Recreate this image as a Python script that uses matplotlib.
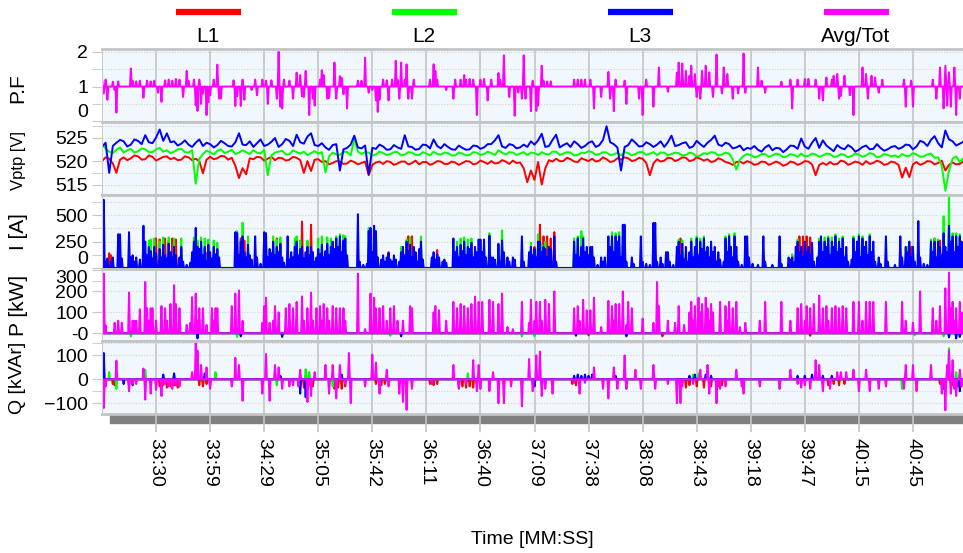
import numpy as np
import matplotlib.pyplot as plt
from matplotlib.lines import Line2D
from matplotlib.patches import Rectangle

plt.rcParams['font.family'] = ['Liberation Sans', 'DejaVu Sans']

# samples on the time axis (ticks every 30 samples)
N = 480
tick_pos = [30, 60, 90, 120, 150, 180, 210, 240, 270, 300, 330, 360, 390, 420, 450]
tick_labels = ['33:30', '33:59', '34:29', '35:05', '35:42', '36:11', '36:40', '37:09',
               '37:38', '38:08', '38:43', '39:18', '39:47', '40:15', '40:45']

phases = ['L1', 'L2', 'L3', 'Avg/Tot']
colors = ['#ff0000', '#00ff00', '#0000ff', '#ff00ff']

# power factor: sits at 1, (sample, value) where it leaves 1
pf_base = 1.0
pf_pts = [(0, 1.22), (1, 0.8), (2, 1.2), (3, 0.62), (6, 1.14), (7, 0.9), (8, 0.25), (9, 1.15),
          (16, 1.52), (17, 1.17), (19, 1.15), (21, 1.17), (23, 0.68), (25, 1.17), (27, 1.15),
          (29, 1.17), (31, 0.82), (33, 0.56), (35, 1.18), (37, 1.2), (39, 1.17), (41, 1.22),
          (43, 1.2), (45, 0.7), (47, 1.45), (48, 1.17), (51, 1.2), (52, 0.46), (53, 0.3),
          (54, 1.2), (55, 0.5), (56, 0.8), (58, 0.18), (59, 0.55), (60, 0.75), (62, 1.2),
          (64, 1.63), (65, 0.65), (66, 0.65), (73, 1.18), (74, 0.44), (75, 0.72), (77, 0.44),
          (78, 1.2), (79, 0.62), (83, 0.9), (85, 1.2), (86, 0.75), (89, 1.2), (91, 1.17),
          (92, 0.5), (94, 1.18), (97, 0.65), (98, 2.0), (99, 0.42), (100, 0.37), (101, 1.2),
          (104, 1.17), (106, 0.65), (108, 1.4), (110, 1.33), (111, 0.72), (112, 0.7),
          (113, 1.45), (115, 0.18), (117, 0.65), (118, 0.45), (121, 1.2), (122, 1.47),
          (123, 1.33), (125, 0.65), (126, 0.67), (129, 1.69), (130, 0.65), (132, 1.3),
          (133, 1.25), (134, 0.78), (136, 0.37), (142, 1.17), (144, 1.17), (146, 1.83),
          (148, 0.82), (150, 0.9), (152, 0.6), (153, 0.27), (154, 0.62), (156, 1.2),
          (158, 1.18), (159, 0.6), (161, 1.2), (163, 1.74), (164, 1.2), (165, 0.65),
          (166, 1.69), (168, 1.2), (169, 1.64), (170, 0.65), (172, 0.65), (173, 1.2),
          (182, 1.2), (184, 1.64), (185, 1.45), (186, 1.2), (191, 0.9), (195, 0.65),
          (196, 1.2), (199, 1.2), (201, 1.33), (202, 1.2), (204, 1.22), (206, 1.2), (208, 0.18),
          (210, 1.2), (212, 1.22), (214, 0.6), (216, 1.2), (220, 1.39), (221, 1.2), (223, 1.9),
          (226, 0.7), (229, 0.16), (231, 0.83), (233, 0.65), (234, 1.9), (235, 0.65),
          (238, 0.29), (239, 1.17), (241, 0.3), (242, 0.45), (244, 1.6), (245, 1.17),
          (247, 1.15), (249, 1.15), (262, 1.2), (264, 1.2), (266, 1.2), (268, 1.2), (271, 1.2),
          (273, 0.37), (277, 0.7), (281, 1.42), (282, 0.65), (284, 0.29), (285, 1.2),
          (290, 1.17), (291, 0.5), (298, 0.65), (300, 0.18), (302, 1.2), (306, 0.42),
          (309, 1.55), (314, 0.85), (319, 1.4), (320, 1.69), (322, 1.66), (324, 1.45),
          (326, 1.31), (327, 1.6), (329, 1.36), (330, 0.7), (332, 0.65), (333, 1.45),
          (335, 1.6), (337, 1.41), (339, 0.7), (341, 1.92), (344, 0.8), (345, 1.55),
          (347, 1.36), (350, 0.65), (353, 0.8), (356, 1.95), (357, 0.82), (364, 1.55),
          (366, 1.17), (368, 0.82), (377, 1.14), (382, 1.2), (383, 0.37), (386, 1.2),
          (390, 1.22), (392, 1.22), (396, 1.2), (398, 0.65), (400, 0.6), (402, 1.26),
          (405, 1.2), (406, 1.31), (408, 1.36), (409, 0.65), (410, 0.73), (412, 1.31),
          (415, 0.75), (417, 0.18), (422, 1.55), (424, 1.36), (425, 0.65), (427, 1.31),
          (429, 1.26), (431, 0.82), (433, 1.2), (445, 1.2), (446, 0.42), (449, 1.17),
          (450, 0.42), (461, 1.2), (463, 0.65), (465, 1.55), (467, 0.37), (468, 1.6),
          (469, 0.45), (470, 1.41), (471, 0.42), (473, 1.55), (474, 0.18), (476, 0.65)]

# phase-to-phase voltage: one reading every 2 samples, split in even/odd readings
v_step = 2
v_l1 = [520.0, 520.5, 517.5, 520.8, 520.6, 521.0, 520.4, 520.9, 520.5, 521.0,
        520.7, 520.3, 520.8, 520.5, 517.4, 520.9, 520.6, 521.0, 520.7, 516.4,
        517.2, 520.4, 520.8, 520.5, 520.2, 520.6, 520.3, 520.7, 517.5, 517.9,
        520.4, 520.0, 519.6, 519.9, 519.5, 519.8, 519.6, 517.0, 519.7, 519.4,
        519.8, 519.5, 519.9, 519.6, 519.3, 519.8, 519.5, 519.9, 519.4, 519.7,
        519.6, 519.9, 519.5, 519.8, 520.0, 519.6, 519.9, 520.1, 519.7, 515.5,
        516.0, 515.0, 520.2, 520.5, 520.0, 520.4, 519.8, 520.3, 520.5, 520.1,
        520.4, 520.0, 520.3, 520.6, 520.2, 520.5, 517.0, 520.4, 520.1, 520.6,
        520.3, 520.7, 520.2, 520.5, 520.4, 520.0, 520.3, 519.6, 519.8, 519.5,
        519.7, 519.4, 519.8, 519.5, 519.6, 519.3, 519.7, 519.5, 519.9, 517.0,
        519.6, 519.8, 519.4, 519.9, 519.5, 519.7, 520.0, 519.6, 519.8, 519.4,
        519.7, 516.5, 516.6, 519.8, 519.5, 519.9, 519.6, 518.0, 519.7, 519.4]
v_l1_odd = [520.8, 519.5, 520.3, 520.2, 521.2, 520.3, 521.2, 520.1, 520.9, 520.4,
            520.2, 521.0, 520.2, 520.0, 520.3, 520.4, 521.1, 520.3, 519.0, 518.5,
            520.6, 520.9, 520.1, 520.9, 520.7, 520.1, 520.9, 520.2, 520.0, 520.3,
            519.8, 519.3, 520.0, 519.4, 520.1, 519.3, 519.9, 519.2, 519.9, 520.0,
            519.2, 519.9, 519.3, 520.1, 519.8, 519.2, 520.0, 519.4, 519.9, 519.2,
            520.0, 519.3, 520.1, 519.4, 519.5, 520.2, 519.4, 519.6, 518.5, 518.0,
            519.8, 518.5, 519.9, 520.0, 520.7, 519.9, 520.6, 520.0, 519.9, 520.8,
            519.8, 520.6, 520.8, 520.0, 520.7, 519.6, 519.5, 519.9, 520.7, 520.0,
            520.8, 520.0, 520.8, 520.1, 519.8, 520.6, 519.8, 519.2, 519.9, 520.0,
            519.2, 519.9, 519.2, 519.9, 519.0, 519.9, 519.2, 520.0, 519.3, 519.2,
            519.2, 519.3, 520.1, 519.2, 519.9, 519.2, 519.4, 520.1, 519.2, 519.9,
            519.2, 518.6, 519.3, 519.2, 520.0, 519.3, 520.1, 519.2, 519.3, 519.9]
v_l2 = [523.8, 522.0, 522.4, 521.8, 522.6, 522.1, 522.5, 521.9, 522.8, 522.3,
        522.0, 522.6, 521.8, 515.2, 521.5, 521.9, 522.2, 521.7, 522.4, 521.8,
        521.9, 522.3, 521.6, 517.0, 521.8, 522.2, 521.5, 521.9, 522.0, 521.7,
        521.6, 517.6, 521.8, 521.3, 521.9, 524.8, 521.5, 521.8, 521.4, 521.7,
        521.5, 521.9, 521.4, 521.8, 521.3, 521.6, 522.0, 521.4, 521.7, 521.2,
        521.6, 521.3, 521.8, 521.5, 521.7, 522.3, 521.4, 521.8, 521.6, 521.3,
        521.7, 521.9, 521.4, 522.0, 521.6, 521.8, 521.3, 521.7, 521.9, 521.5,
        521.8, 521.4, 521.2, 521.7, 521.5, 521.9, 521.6, 521.3, 521.8, 521.5,
        521.7, 521.3, 521.6, 521.2, 521.5, 521.8, 521.4, 521.6, 518.2, 521.1,
        521.3, 521.0, 521.5, 521.2, 521.4, 521.0, 521.3, 521.6, 521.1, 521.4,
        521.2, 521.5, 521.0, 521.3, 521.1, 521.4, 521.2, 521.5, 521.0, 521.3,
        521.2, 521.5, 521.1, 521.4, 521.0, 521.6, 520.8, 513.7, 520.5, 519.8]
v_l2_odd = [522.6, 521.7, 522.9, 522.3, 521.8, 522.7, 521.9, 522.5, 522.0, 521.7,
            522.5, 521.9, 522.3, 520.5, 522.2, 521.4, 522.5, 522.0, 521.5, 522.3,
            521.5, 521.8, 522.4, 521.2, 522.0, 521.4, 522.3, 521.6, 521.3, 522.1,
            521.9, 521.0, 521.4, 522.0, 521.2, 522.0, 521.9, 521.2, 522.0, 521.3,
            521.9, 521.2, 521.9, 521.3, 521.9, 521.2, 521.5, 521.8, 521.2, 521.8,
            521.2, 521.9, 521.3, 522.0, 521.3, 521.8, 521.9, 521.3, 521.9, 521.8,
            521.3, 521.5, 522.0, 521.3, 521.9, 521.2, 521.8, 522.1, 521.3, 521.9,
            521.3, 521.8, 521.9, 521.2, 521.9, 521.3, 521.9, 521.8, 521.2, 521.8,
            521.2, 521.8, 521.0, 521.7, 521.9, 521.2, 521.8, 520.4, 520.3, 521.5,
            520.8, 521.5, 520.9, 521.6, 520.8, 521.5, 520.9, 521.0, 521.6, 520.9,
            521.6, 520.9, 521.5, 520.8, 521.6, 520.9, 521.7, 520.8, 521.5, 521.0,
            520.8, 521.1, 521.7, 520.9, 521.4, 520.7, 519.0, 518.0, 521.0, 520.6]
v_l3 = [523.0, 517.5, 523.9, 524.2, 523.5, 524.3, 525.5, 523.8, 526.7, 525.9,
        524.2, 523.7, 523.5, 523.9, 523.2, 523.6, 523.4, 523.8, 523.1, 525.9,
        523.4, 523.0, 524.6, 523.5, 524.9, 523.6, 524.3, 525.6, 523.7, 525.9,
        523.2, 522.9, 523.4, 518.0, 522.8, 525.4, 522.7, 517.2, 522.6, 523.1,
        522.5, 522.9, 525.5, 523.0, 522.6, 523.4, 524.6, 522.7, 523.0, 522.4,
        522.8, 522.5, 523.2, 522.9, 523.6, 525.5, 522.8, 523.4, 522.9, 523.0,
        523.5, 525.8, 523.2, 525.6, 523.4, 523.0, 523.6, 523.2, 524.2, 523.4,
        527.4, 523.6, 518.0, 523.4, 523.9, 523.2, 523.6, 523.5, 523.0, 525.4,
        523.4, 524.0, 523.1, 523.6, 523.9, 525.4, 523.2, 523.6, 522.9, 522.3,
        522.6, 522.4, 522.9, 522.3, 522.7, 522.5, 523.2, 524.8, 522.6, 524.9,
        524.4, 522.7, 523.4, 522.5, 522.9, 522.4, 523.3, 522.6, 522.8, 522.5,
        523.2, 522.9, 523.4, 523.1, 524.0, 524.5, 523.8, 526.5, 524.2, 523.7]
v_l3_odd = [523.9, 523.2, 524.5, 523.1, 524.6, 523.6, 524.0, 525.0, 524.3, 524.0,
            523.3, 524.4, 523.0, 524.6, 523.9, 522.9, 524.3, 523.2, 524.0, 523.5,
            524.2, 523.8, 523.2, 524.1, 523.0, 524.7, 523.2, 524.0, 525.2, 523.4,
            523.8, 522.4, 523.6, 522.5, 523.5, 522.9, 523.3, 522.8, 523.5, 522.4,
            523.4, 522.6, 523.1, 522.4, 523.5, 522.7, 523.2, 523.6, 522.5, 523.3,
            522.4, 523.3, 522.6, 523.6, 524.4, 523.1, 523.6, 522.7, 523.5, 524.2,
            524.4, 523.0, 524.5, 522.9, 523.8, 524.2, 522.8, 523.9, 523.0, 524.5,
            524.0, 522.9, 523.0, 524.6, 523.1, 524.0, 523.0, 524.2, 524.0, 523.2,
            523.8, 522.8, 524.3, 523.0, 524.5, 523.5, 523.9, 522.7, 523.3, 522.8,
            523.2, 522.0, 523.4, 522.8, 521.9, 523.3, 522.6, 523.1, 523.9, 522.8,
            523.3, 522.1, 522.8, 523.4, 522.0, 523.0, 522.5, 523.6, 522.2, 523.0,
            522.6, 523.5, 522.5, 524.3, 523.2, 525.3, 522.9, 524.6, 523.3, 524.1]

# current: sits at 0 A, (sample, value) where a phase draws current
i_l3_pts = [(0, 270), (1, 646), (2, 60), (3, 90), (5, 60), (6, 100), (9, 320), (10, 320), (11, 90),
            (15, 340), (16, 100), (17, 120), (18, 60), (19, 100), (21, 80), (23, 400), (24, 250),
            (25, 120), (26, 200), (27, 160), (28, 90), (29, 200), (30, 140), (32, 180), (33, 100),
            (34, 220), (35, 120), (36, 90), (37, 230), (38, 150), (39, 100), (40, 200), (41, 120),
            (43, 100), (44, 200), (45, 60), (47, 30), (49, 50), (50, 150), (51, 250), (52, 380),
            (53, 200), (54, 180), (55, 250), (56, 120), (57, 200), (58, 60), (59, 220), (60, 150),
            (61, 90), (62, 200), (63, 130), (64, 180), (65, 100), (74, 340), (75, 330), (76, 120),
            (77, 250), (78, 300), (79, 150), (80, 100), (81, 220), (82, 120), (83, 80), (85, 300),
            (86, 100), (88, 40), (90, 340), (91, 330), (92, 100), (93, 180), (94, 140), (95, 250),
            (96, 120), (97, 200), (98, 150), (99, 230), (100, 100), (101, 50), (103, 300), (104, 80),
            (105, 150), (106, 100), (107, 200), (108, 250), (109, 120), (110, 180), (111, 200),
            (112, 90), (113, 150), (114, 200), (115, 120), (116, 200), (117, 150), (118, 60),
            (119, 100), (120, 180), (121, 130), (122, 220), (123, 100), (124, 160), (125, 230),
            (126, 120), (127, 200), (128, 250), (129, 180), (130, 280), (131, 200), (132, 300),
            (133, 150), (134, 260), (135, 280), (136, 120), (142, 510), (143, 60), (145, 30),
            (147, 40), (148, 350), (149, 380), (150, 150), (151, 400), (152, 350), (153, 100),
            (155, 80), (156, 120), (157, 60), (158, 100), (159, 140), (160, 80), (161, 60),
            (162, 120), (163, 80), (165, 60), (166, 150), (167, 200), (168, 120), (169, 250),
            (170, 160), (171, 220), (172, 100), (173, 200), (174, 150), (175, 60), (176, 180),
            (177, 250), (178, 80), (183, 100), (184, 150), (185, 80), (186, 130), (187, 100),
            (189, 60), (190, 80), (191, 50), (195, 280), (196, 150), (197, 200), (198, 100),
            (199, 220), (200, 160), (201, 250), (202, 120), (203, 200), (204, 180), (205, 240),
            (206, 100), (207, 200), (208, 150), (209, 270), (210, 270), (211, 150), (212, 270),
            (213, 100), (215, 305), (216, 100), (217, 100), (218, 80), (220, 230), (221, 60),
            (222, 260), (223, 150), (225, 100), (226, 60), (228, 100), (229, 80), (233, 300),
            (234, 60), (237, 150), (238, 200), (239, 120), (240, 180), (241, 100), (242, 250),
            (243, 250), (244, 150), (245, 200), (246, 180), (247, 100), (248, 200), (249, 180),
            (251, 300), (252, 60), (262, 250), (263, 120), (264, 280), (265, 100), (266, 200),
            (267, 280), (268, 150), (269, 200), (270, 120), (271, 200), (272, 200), (273, 100),
            (275, 30), (277, 100), (278, 60), (279, 100), (281, 300), (282, 200), (283, 300),
            (284, 150), (285, 300), (286, 250), (287, 300), (288, 100), (289, 410), (290, 410),
            (291, 60), (294, 100), (295, 40), (299, 300), (300, 60), (302, 40), (304, 30),
            (306, 427), (307, 427), (308, 60), (310, 100), (311, 40), (313, 150), (314, 150),
            (315, 60), (317, 30), (319, 200), (320, 250), (321, 120), (322, 230), (323, 80),
            (324, 200), (325, 60), (326, 150), (327, 250), (328, 100), (329, 200), (330, 280),
            (331, 120), (332, 250), (333, 180), (334, 280), (335, 150), (336, 200), (337, 100),
            (338, 250), (339, 150), (340, 200), (341, 60), (342, 150), (343, 80), (345, 60),
            (346, 280), (347, 150), (348, 300), (349, 200), (350, 100), (351, 300), (352, 200),
            (353, 60), (355, 30), (357, 300), (358, 300), (359, 100), (361, 40), (364, 30),
            (367, 300), (368, 60), (372, 30), (376, 300), (377, 40), (381, 100), (382, 80),
            (383, 100), (384, 50), (385, 200), (386, 250), (387, 150), (388, 200), (389, 100),
            (390, 250), (391, 150), (392, 200), (393, 120), (394, 240), (395, 60), (397, 100),
            (398, 250), (399, 300), (400, 150), (401, 250), (402, 200), (403, 280), (404, 120),
            (405, 250), (406, 200), (407, 300), (408, 150), (409, 250), (410, 180), (411, 280),
            (412, 100), (413, 200), (414, 60), (416, 80), (417, 280), (418, 150), (419, 250),
            (420, 300), (421, 100), (422, 280), (423, 200), (424, 250), (425, 120), (426, 300),
            (427, 150), (428, 250), (429, 60), (431, 100), (432, 40), (435, 300), (436, 60),
            (440, 30), (443, 300), (444, 100), (446, 200), (447, 150), (448, 250), (449, 100),
            (450, 200), (451, 60), (453, 445), (454, 100), (456, 40), (458, 30), (460, 250),
            (461, 150), (462, 250), (463, 100), (464, 250), (465, 200), (466, 120), (467, 330),
            (468, 200), (469, 150), (470, 400), (471, 250), (472, 300), (473, 150), (474, 300),
            (475, 200), (476, 300), (477, 250)]
i_l2_pts = [(26, 260), (27, 270), (29, 280), (32, 250), (34, 290), (37, 290), (40, 280), (44, 280),
            (51, 290), (53, 260), (55, 290), (57, 280), (59, 270), (62, 260), (64, 240), (75, 350),
            (78, 430), (81, 300), (95, 300), (97, 270), (99, 290), (107, 280), (108, 300),
            (110, 260), (114, 260), (120, 280), (122, 300), (125, 290), (127, 280), (130, 300),
            (132, 320), (134, 310), (135, 300), (148, 380), (166, 200), (169, 270), (171, 290),
            (177, 300), (197, 250), (199, 280), (201, 290), (203, 270), (205, 280), (215, 330),
            (222, 357), (238, 240), (242, 320), (244, 220), (246, 250), (262, 280), (264, 300),
            (266, 350), (267, 300), (283, 340), (285, 330), (287, 340), (320, 270), (322, 260),
            (327, 280), (330, 300), (332, 280), (334, 300), (346, 300), (348, 320), (351, 330),
            (383, 130), (386, 270), (398, 280), (401, 290), (403, 300), (405, 290), (407, 320),
            (409, 280), (411, 300), (417, 300), (420, 320), (422, 300), (426, 320), (447, 200),
            (460, 270), (462, 280), (464, 270), (467, 490), (470, 700), (472, 330), (474, 330),
            (476, 320)]
i_l1_pts = [(4, 140), (5, 120), (30, 280), (32, 270), (35, 280), (37, 260), (39, 280), (41, 270),
            (58, 140), (77, 280), (79, 260), (97, 280), (111, 440), (114, 250), (116, 410),
            (159, 150), (170, 300), (172, 300), (186, 170), (240, 200), (243, 410), (245, 300),
            (247, 300), (249, 280), (251, 340), (321, 280), (383, 120), (387, 300), (389, 300),
            (391, 300), (393, 290), (449, 200), (462, 280), (465, 260), (476, 280)]

# active power [kW]: total plus the small phase readings below zero
p_tot_pts = [(0, 120), (1, 285), (2, 38), (7, 50), (9, 60), (11, 50), (15, 195), (17, 60), (18, 60),
             (19, 60), (21, 115), (24, 245), (25, 120), (26, 60), (27, 120), (28, 120), (30, 60),
             (33, 130), (35, 120), (36, 60), (38, 140), (40, 230), (41, 140), (43, 120), (47, 40),
             (49, 50), (50, 173), (52, 190), (53, 60), (54, 120), (56, 120), (58, 40), (61, 120),
             (62, 60), (63, 120), (64, 120), (72, 130), (74, 190), (76, 205), (78, 60), (89, 50),
             (90, 130), (91, 170), (93, 50), (95, 60), (96, 130), (98, 100), (102, 120), (104, 140),
             (106, 120), (108, 150), (111, 176), (112, 60), (114, 120), (116, 194), (117, 60),
             (119, 120), (121, 130), (122, 60), (123, 140), (125, 120), (126, 60), (128, 130),
             (130, 120), (132, 120), (134, 120), (135, 60), (142, 285), (146, 20), (149, 190),
             (151, 170), (152, 120), (154, 120), (156, 130), (158, 60), (160, 120), (162, 130),
             (164, 60), (167, 60), (171, 130), (172, 120), (184, 100), (185, 130), (187, 110),
             (191, 60), (195, 150), (197, 120), (199, 140), (201, 130), (203, 120), (205, 140),
             (207, 175), (209, 150), (211, 150), (215, 160), (217, 150), (220, 140), (222, 190),
             (225, 30), (228, 20), (233, 150), (237, 50), (238, 160), (240, 60), (241, 150),
             (243, 150), (244, 60), (246, 160), (248, 140), (251, 200), (262, 120), (264, 130),
             (265, 60), (267, 160), (269, 110), (271, 110), (273, 170), (277, 30), (281, 155),
             (283, 130), (284, 60), (285, 140), (287, 140), (289, 200), (291, 40), (292, 150),
             (294, 120), (300, 70), (306, 50), (308, 245), (309, 130), (314, 60), (318, 50),
             (320, 130), (323, 40), (326, 100), (327, 150), (328, 60), (329, 130), (331, 170),
             (332, 100), (333, 140), (335, 170), (336, 120), (337, 60), (338, 140), (339, 100),
             (343, 150), (346, 130), (347, 60), (348, 150), (350, 120), (352, 150), (354, 30),
             (357, 50), (365, 60), (368, 150), (377, 150), (382, 60), (386, 120), (388, 140),
             (390, 60), (391, 130), (393, 120), (395, 140), (398, 180), (400, 120), (402, 130),
             (403, 60), (405, 120), (407, 130), (409, 120), (411, 130), (413, 120), (417, 150),
             (420, 150), (422, 60), (424, 150), (426, 150), (428, 150), (435, 150), (444, 150),
             (446, 60), (450, 50), (454, 200), (461, 120), (463, 60), (465, 130), (468, 215),
             (470, 290), (471, 120), (472, 150), (473, 60), (474, 120), (476, 150), (477, 100)]
p_l1_pts = [(270, -10), (311, -15), (393, -12)]
p_l2_pts = [(16, -15), (75, -18), (160, -12), (233, -15), (240, -15), (451, -10), (467, -15)]
p_l3_pts = [(53, -25), (77, -15), (100, -18), (166, -15), (263, -12), (291, -15), (470, -20),
            (474, -25), (476, -18)]

# reactive power [kVAr]
q_tot_pts = [(1, -120), (2, -30), (8, 78), (15, -50), (17, -20), (19, -20), (23, 45), (24, -85),
             (27, -60), (30, -45), (33, -70), (35, -20), (37, -30), (39, -40), (41, -25), (43, -30),
             (50, 30), (52, 150), (53, 120), (55, 60), (58, 50), (60, -40), (72, -30), (74, 90),
             (76, 60), (78, -90), (89, -60), (91, 106), (93, -90), (96, 60), (98, 50), (100, -40),
             (104, -30), (106, -25), (109, -30), (110, 40), (114, -95), (116, -70), (118, 30),
             (124, 60), (126, -60), (128, 60), (130, -80), (132, 60), (135, -20), (137, 110),
             (138, -100), (146, -30), (150, 103), (152, 70), (154, -60), (158, 40), (159, -30),
             (165, -60), (167, -95), (169, -128), (172, -40), (183, -20), (195, 60), (198, -40),
             (202, -20), (206, 80), (208, -50), (209, 60), (210, -40), (215, -50), (217, 30),
             (220, -100), (223, -100), (227, -30), (233, -113), (237, 85), (239, -50), (241, 100),
             (243, 116), (244, -70), (246, -40), (250, -60), (262, -15), (265, -60), (268, -15),
             (273, 50), (278, -40), (281, -80), (284, 50), (286, -40), (290, 100), (291, -40),
             (296, 40), (299, -40), (306, 60), (307, -40), (314, -20), (319, -100), (321, -100),
             (322, -30), (328, -20), (332, 40), (336, 60), (337, -60), (341, -100), (343, -40),
             (346, -30), (352, 40), (355, -30), (356, -60), (365, -30), (376, -40), (382, 40),
             (386, -20), (388, -35), (390, -25), (393, -40), (396, 80), (398, 60), (400, -50),
             (404, -40), (408, 30), (410, 30), (413, 30), (417, 40), (420, -50), (424, 40),
             (426, -50), (431, -40), (435, -30), (445, -40), (446, 60), (450, 60), (452, -50),
             (460, 60), (466, -60), (468, -130), (469, 60), (470, 120), (471, -60), (472, 80),
             (473, -40), (474, -70), (476, 40), (477, -30)]
q_l1_pts = [(6, -20), (7, -25), (15, -30), (32, -30), (34, -25), (36, -35), (38, -30), (40, -25),
            (42, -35), (54, -25), (56, -30), (58, -20), (60, -25), (110, -30), (112, -35),
            (115, -25), (117, -30), (129, -40), (131, -35), (133, -40), (135, -30), (152, -20),
            (155, -25), (157, -20), (182, -20), (184, -25), (186, -20), (198, -35), (200, -30),
            (202, -35), (204, -30), (206, -35), (261, -20), (263, -25), (265, -20), (321, -30),
            (324, -35), (326, -25), (330, -30), (334, -35), (338, -30), (342, -30), (344, -25),
            (400, -20), (403, -25), (406, -20), (409, -25), (412, -20), (465, -20), (472, -25),
            (475, -30)]
q_l2_pts = [(4, 30), (8, -40), (24, 40), (63, 30), (96, 35), (97, -25), (113, 42), (115, 30),
            (128, -30), (150, 20), (203, 25), (233, -30), (291, -40), (328, 20), (331, 25),
            (356, -40), (376, -40), (444, -40), (470, 130), (474, 30), (476, -40)]
q_l3_pts = [(0, 10), (1, 110), (12, -20), (17, -25), (34, 20), (40, 25), (57, 25), (99, 15),
            (110, -60), (113, -75), (128, 15), (133, 20), (137, 10), (150, 15), (154, -30),
            (240, -30), (262, 15), (264, 20), (266, 15), (268, 20), (270, 15), (272, 20), (285, 15),
            (326, 15), (329, 20), (332, 15), (335, 20), (338, 15), (386, 15), (390, 15), (394, 20),
            (400, 15), (405, 15), (410, 15), (467, -40), (476, -50)]


def series(pts, base):
    # readings on a half-sample grid, so every event is a narrow spike
    xs = np.arange(2 * N) / 2
    y = np.full(2 * N, float(base))
    for i, v in pts:
        y[2 * i] = v
    return xs, y


def merge(even, odd):
    y = np.empty(len(even) + len(odd))
    y[0::2] = even
    y[1::2] = odd
    return y


xv = np.arange(2 * len(v_l1)) * v_step

W, H = 963, 553
fig = plt.figure(figsize=(W / 100, H / 100), dpi=100)

# panel extents in pixels (top, bottom)
rows = [(49, 122), (122, 195), (195, 269), (269, 341), (341, 414)]
axes = []
for top, bot in rows:
    ax = fig.add_axes([102 / W, 1 - bot / H, (W - 102) / W, (bot - top) / H])
    ax.set_facecolor('#f0f7fd')
    ax.set_xlim(0, (W - 103) / 1.8)
    ax.set_xticks(tick_pos)
    ax.grid(axis='x', color='#c4c4c4', lw=1.2)
    ax.grid(axis='y', which='both', color='#d4d4d4', lw=0.8, ls=(0, (1, 1.5)))
    ax.set_axisbelow(True)
    for s in ['top', 'bottom']:
        ax.spines[s].set_color('#c4c4c4')
        ax.spines[s].set_linewidth(2)
    ax.spines['left'].set_color('#cccccc')
    ax.spines['right'].set_visible(False)
    ax.tick_params(axis='y', which='both', direction='out', length=7, color='#c8c8c8',
                   labelsize=14, pad=3)
    ax.tick_params(axis='x', length=0, labelbottom=False)
    axes.append(ax)

ax_pf, ax_v, ax_i, ax_p, ax_q = axes
lw = 1.4

ax_pf.plot(*series(pf_pts, pf_base), color=colors[3], lw=lw)
ax_pf.set_ylim(-0.02, 2.08)
ax_pf.set_yticks([0, 1, 2])
ax_pf.set_yticks([0.5, 1.5], minor=True)

for ev, od, c in zip([v_l1, v_l2, v_l3], [v_l1_odd, v_l2_odd, v_l3_odd], colors):
    ax_v.plot(xv, merge(ev, od), color=c, lw=lw)
ax_v.set_ylim(512.8, 528.3)
ax_v.set_yticks([515, 520, 525])
ax_v.set_yticks([517.5, 527.5], minor=True)

for pts, c in zip([i_l1_pts, i_l2_pts, i_l3_pts], colors):
    ax_i.plot(*series(pts, 0), color=c, lw=lw)
ax_i.set_ylim(-10, 692)
ax_i.set_yticks([0, 250, 500])
ax_i.set_yticks([125, 375, 625], minor=True)

for pts, c in zip([p_l1_pts, p_l2_pts, p_l3_pts, p_tot_pts], colors):
    ax_p.plot(*series(pts, 0), color=c, lw=lw)
ax_p.set_ylim(-37, 307)
ax_p.set_yticks([0, 100, 200, 300])
ax_p.set_yticklabels(['-0', '100', '200', '300'])
ax_p.set_yticks([250], minor=True)

for pts, c in zip([q_l1_pts, q_l2_pts, q_l3_pts, q_tot_pts], colors):
    ax_q.plot(*series(pts, 0), color=c, lw=lw)
ax_q.set_ylim(-145, 160)
ax_q.set_yticks([-100, 0, 100])
ax_q.set_yticks([-50, 150], minor=True)

# edge labels pushed inside their panel
for ax, idx, va in [(ax_pf, 0, 'bottom'), (ax_i, 0, 'bottom'), (ax_p, 3, 'top')]:
    ax.get_yticklabels()[idx].set_va(va)

ax_q.tick_params(axis='x', length=13, width=1.2, color='#c4c4c4', labelbottom=True,
                 labelsize=14, labelrotation=270, pad=4)
ax_q.set_xticklabels(tick_labels)

# dark strip under the panels
fig.add_artist(Rectangle((110 / W, 1 - 423 / H), (W - 110) / W, 8 / H,
                         transform=fig.transFigure, color='#808080', zorder=-1))

# legend bars across the top
for k, (name, c) in enumerate(zip(phases, colors)):
    x0 = 176 + 216 * k
    fig.add_artist(Line2D([x0 / W, (x0 + 65) / W], [1 - 12 / H, 1 - 12 / H],
                          transform=fig.transFigure, color=c, lw=4.5, solid_capstyle='butt'))
    fig.text((x0 + 32) / W, 1 - 37 / H, name, ha='center', va='center', fontsize=15)

ylabels = [('P.F', 88, 15), ('Vptp [V]', 160, 12), ('I [A]', 232, 15),
           ('P [kW]', 305, 15), ('Q [kVAr]', 378, 14)]
for txt, yc, fs in ylabels:
    fig.text(18 / W, 1 - yc / H, txt, rotation=90, ha='center', va='center', fontsize=fs)

fig.text(532 / W, 1 - 540 / H, 'Time [MM:SS]', ha='center', va='center', fontsize=14)

fig.savefig('out.png', dpi=100)
